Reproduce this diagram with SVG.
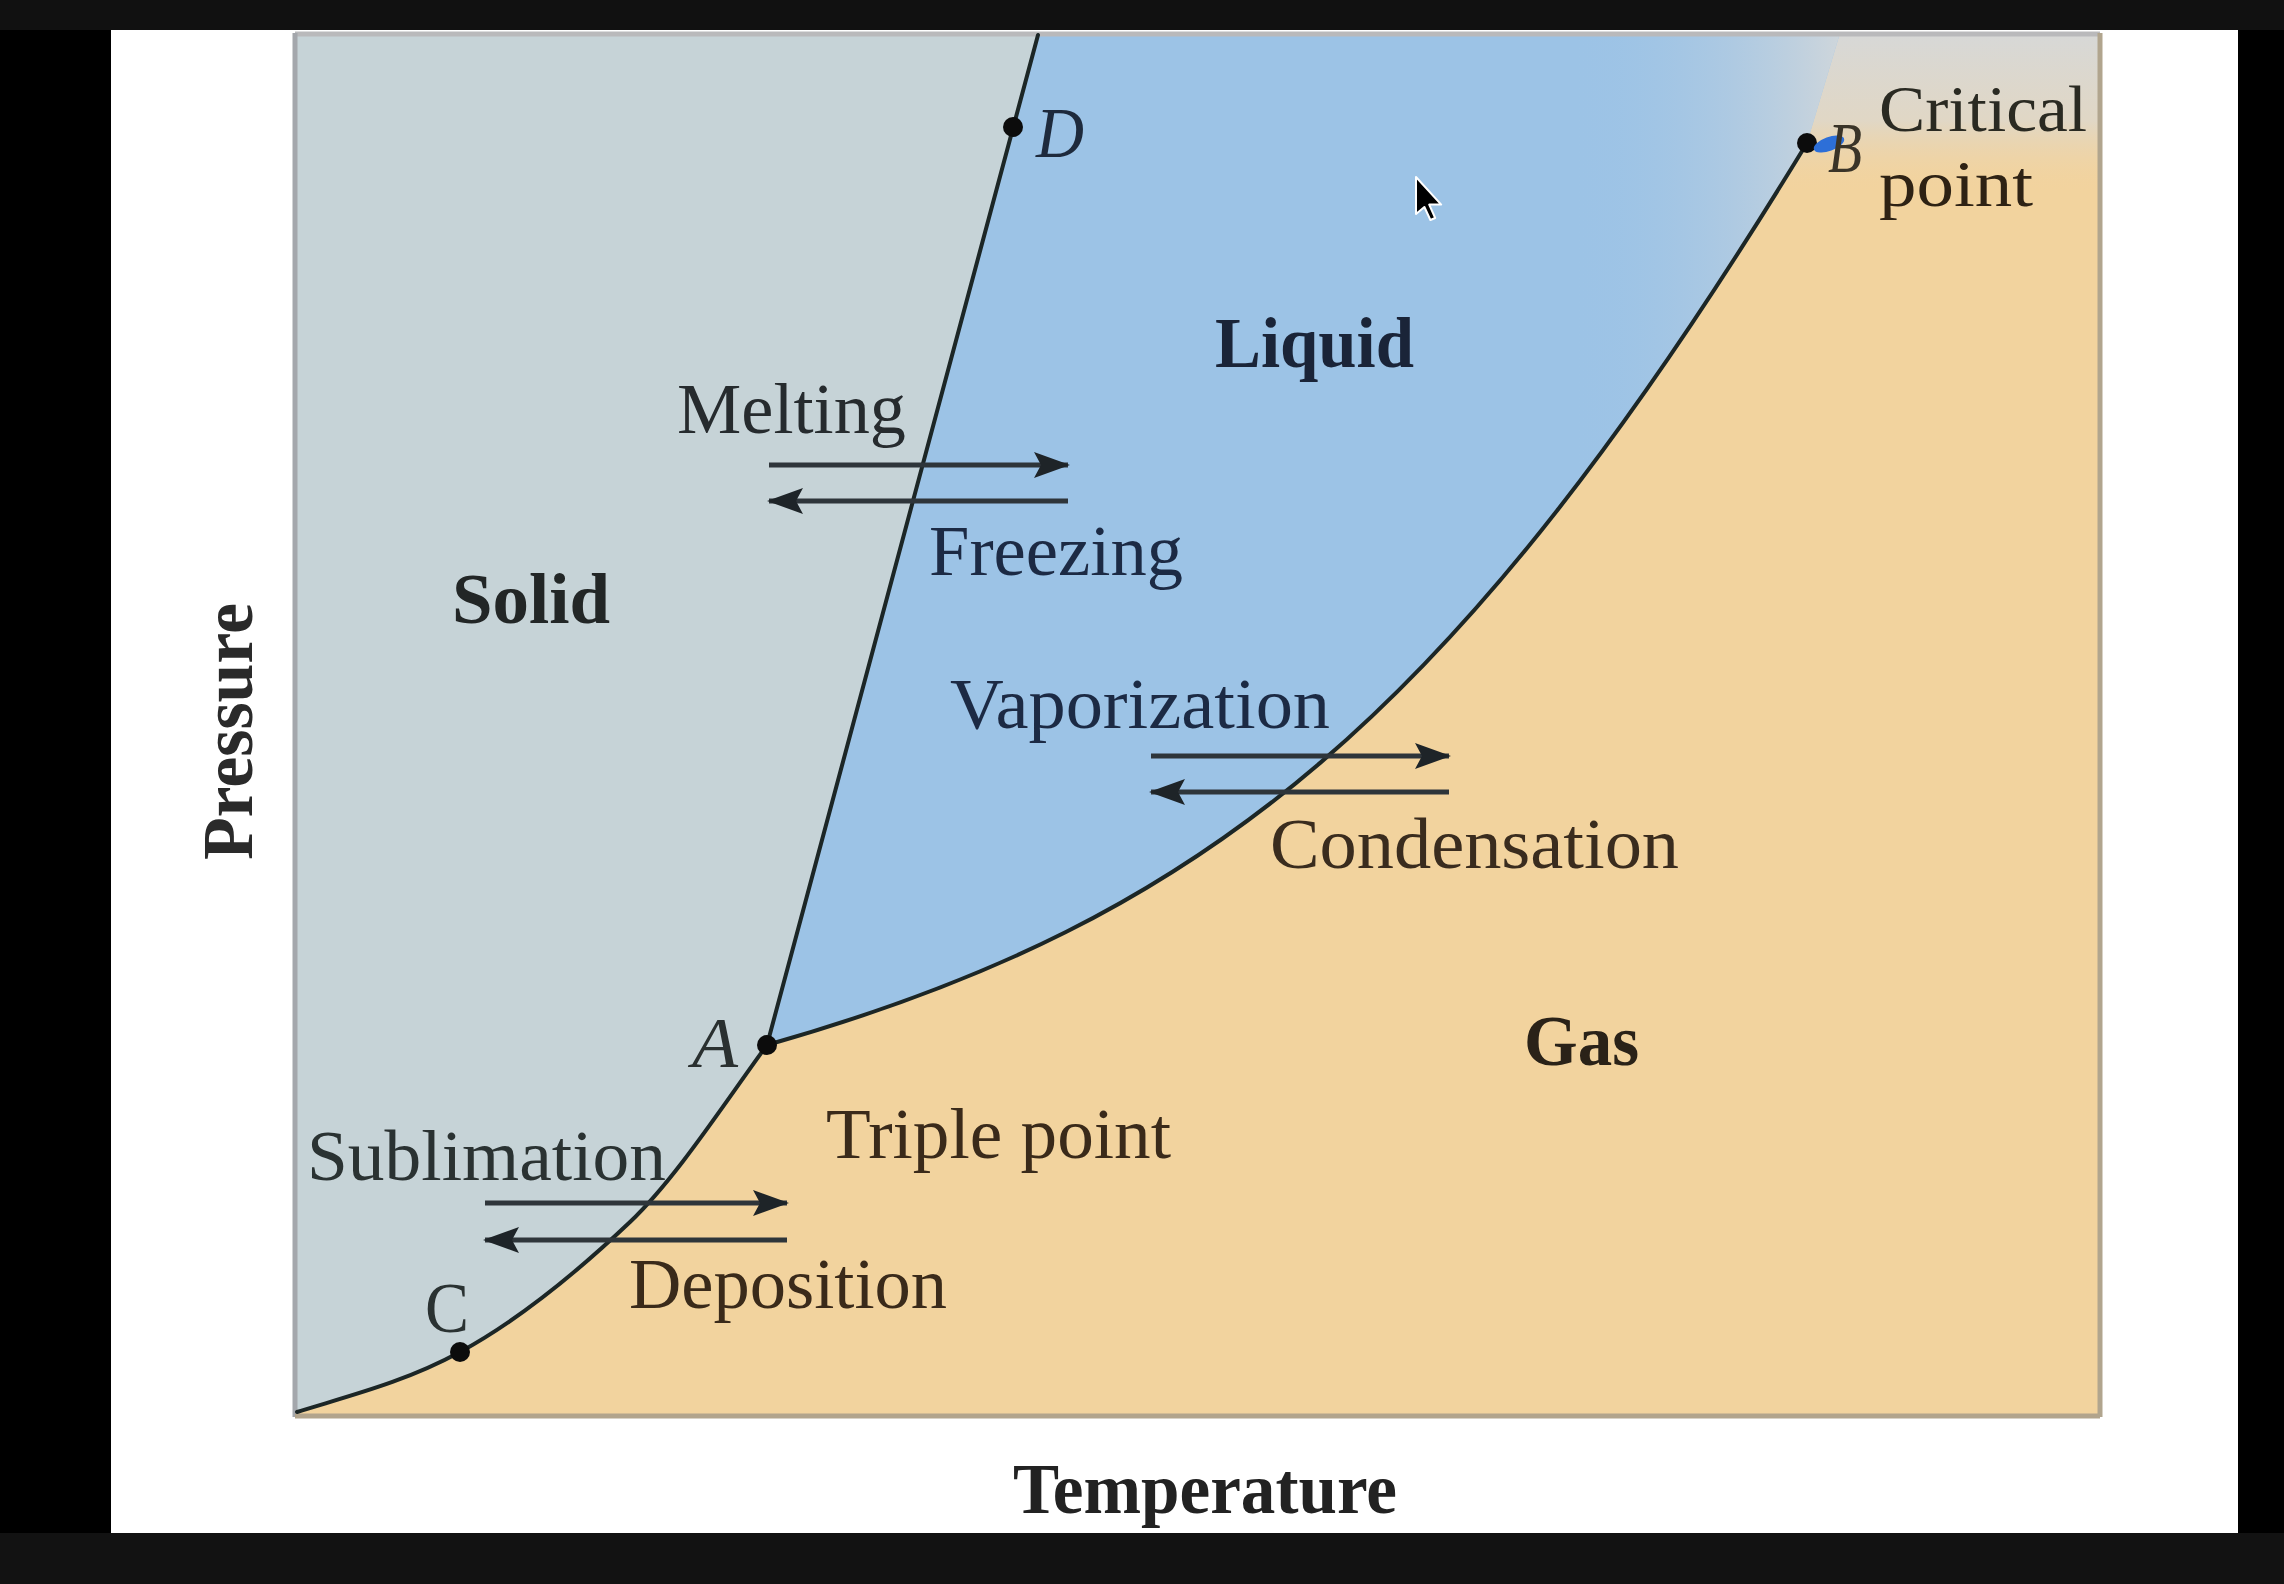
<svg xmlns="http://www.w3.org/2000/svg" width="2284" height="1584" viewBox="0 0 2284 1584">
<style>
.t{font-family:"Liberation Serif","Times New Roman",serif;font-size:72px;}
.s{font-size:66px;}
.b{font-weight:bold;}
.i{font-style:italic;}
.crv{fill:none;stroke:#1c2626;stroke-width:4;stroke-linecap:round;}
.arr{fill:none;stroke:#2e353a;stroke-width:5;marker-end:url(#ah);}
.dot{fill:#0c0c0c;}
</style>
<defs>
<marker id="ah" markerWidth="36" markerHeight="26" refX="34" refY="13" orient="auto" markerUnits="userSpaceOnUse">
<path d="M0,0 L36,13 L0,26 L7,13 Z" fill="#1e2428"/>
</marker>
<linearGradient id="tr" x1="0" y1="0" x2="0" y2="1">
<stop offset="0" stop-color="#d7d8d7" stop-opacity="1"/>
<stop offset="0.55" stop-color="#dcd8cf" stop-opacity="0.8"/>
<stop offset="1" stop-color="#f2d39e" stop-opacity="0"/>
</linearGradient>
<linearGradient id="lq" x1="0" y1="0" x2="1" y2="0">
<stop offset="0.75" stop-color="#9cc3e6" stop-opacity="0"/>
<stop offset="1" stop-color="#d4d8da" stop-opacity="0.9"/>
</linearGradient>
</defs>
<rect x="0" y="0" width="2284" height="1584" fill="#000"/>
<rect x="111" y="30" width="2127" height="1503" fill="#fff"/>
<rect x="0" y="0" width="2284" height="30" fill="#111"/>
<rect x="0" y="1533" width="2284" height="51" fill="#121212"/>
<g id="regions">
<rect id="gas-region" x="295" y="33" width="1805" height="1384" fill="#f2d39e"/>
<rect x="1700" y="33" width="400" height="160" fill="url(#tr)"/>
<path id="liquid-region" d="M1038,33 L767,1045 C1207,920 1457,717 1807,143 L1840,33 Z" fill="#9cc3e6"/>
<path d="M1038,33 L767,1045 C1207,920 1457,717 1807,143 L1840,33 Z" fill="url(#lq)"/>
<path id="solid-region" d="M295,33 L1038,33 L767,1045 C721,1108 676,1178 630,1222 C573,1276 517,1321 460,1352 C405,1382 350,1395.5 295,1412 Z" fill="#c6d3d7"/>
</g>
<g id="frame">
<line x1="295" y1="34" x2="2100" y2="34" stroke="#b9b9bb" stroke-width="5"/>
<line x1="295" y1="33" x2="295" y2="1417" stroke="#a4a7ac" stroke-width="5"/>
<line x1="295" y1="1416" x2="2100" y2="1416" stroke="#b2a48c" stroke-width="5"/>
<line x1="2100" y1="33" x2="2100" y2="1417" stroke="#b1a58e" stroke-width="5"/>
</g>
<g id="connectors">
<path id="fusion-line" class="crv" d="M1038,35 L767,1045"/>
<path id="vapor-line" class="crv" d="M767,1045 C1207,920 1457,717 1807,143"/>
<path id="sublimation-line" class="crv" d="M297,1412 C350,1395.5 405,1382 460,1352 C517,1321 573,1276 630,1222 C676,1178 721,1108 767,1045"/>
<path id="melting-arrow" class="arr" d="M769,465 L1068,465"/>
<path id="freezing-arrow" class="arr" d="M1068,501 L769,501"/>
<path id="vaporization-arrow" class="arr" d="M1151,756 L1449,756"/>
<path id="condensation-arrow" class="arr" d="M1449,792 L1151,792"/>
<path id="sublimation-arrow" class="arr" d="M485,1203 L787,1203"/>
<path id="deposition-arrow" class="arr" d="M787,1240 L485,1240"/>
</g>
<g id="point-D"><circle class="dot" cx="1013" cy="127" r="10"/><text class="t i" x="1036" y="157" fill="#1e2a3c" textLength="48" lengthAdjust="spacingAndGlyphs">D</text></g>
<g id="point-A"><circle class="dot" cx="767" cy="1045" r="10"/><text class="t i" x="692" y="1067" fill="#2a3030" textLength="46" lengthAdjust="spacingAndGlyphs">A</text></g>
<g id="point-B"><circle class="dot" cx="1807" cy="143" r="10"/><ellipse cx="1829" cy="144" rx="16" ry="7" transform="rotate(-20 1829 144)" fill="#2d6fd8"/><text class="t i" x="1828" y="172" fill="#3a3428" textLength="34" lengthAdjust="spacingAndGlyphs">B</text></g>
<g id="point-C"><circle class="dot" cx="460" cy="1352" r="10"/><text class="t" x="425" y="1332" fill="#2a3232" textLength="44" lengthAdjust="spacingAndGlyphs">C</text></g>
<g id="labels">
<text class="t b" x="1215" y="367" fill="#1a2438" textLength="199" lengthAdjust="spacingAndGlyphs">Liquid</text>
<text class="t b" x="452" y="623" fill="#222626" textLength="158" lengthAdjust="spacingAndGlyphs">Solid</text>
<text class="t b" x="1524" y="1065" fill="#2a2218" textLength="115" lengthAdjust="spacingAndGlyphs">Gas</text>
<text class="t" x="677" y="433" fill="#262b2e" textLength="229" lengthAdjust="spacingAndGlyphs">Melting</text>
<text class="t" x="929" y="575" fill="#1c2a44" textLength="254" lengthAdjust="spacingAndGlyphs">Freezing</text>
<text class="t" x="950" y="728" fill="#1c2a44" textLength="380" lengthAdjust="spacingAndGlyphs">Vaporization</text>
<text class="t" x="1270" y="868" fill="#3a2c1e" textLength="409" lengthAdjust="spacingAndGlyphs">Condensation</text>
<text class="t" x="826" y="1158" fill="#3a2a1a" textLength="345" lengthAdjust="spacingAndGlyphs">Triple point</text>
<text class="t" x="307" y="1180" fill="#2a3232" textLength="359" lengthAdjust="spacingAndGlyphs">Sublimation</text>
<text class="t" x="629" y="1308" fill="#3a2a1a" textLength="318" lengthAdjust="spacingAndGlyphs">Deposition</text>
<text class="t s" x="1879" y="131" fill="#2a2a22" textLength="208" lengthAdjust="spacingAndGlyphs">Critical</text>
<text class="t s" x="1879" y="206" fill="#2e2214" textLength="154" lengthAdjust="spacingAndGlyphs">point</text>
<text class="t b" x="1013" y="1513" fill="#222" textLength="384" lengthAdjust="spacingAndGlyphs">Temperature</text>
<text class="t b" transform="translate(252,860) rotate(-90)" x="0" y="0" fill="#2a2a2a" textLength="257" lengthAdjust="spacingAndGlyphs">Pressure</text>
</g>
<g id="cursor">
<polygon points="1416,177 1416,214 1424.4,207 1430.4,220 1435.2,218 1429.2,204.6 1441.2,204.6" fill="#000" stroke="#fff" stroke-width="2" stroke-linejoin="round"/>
</g>
</svg>
